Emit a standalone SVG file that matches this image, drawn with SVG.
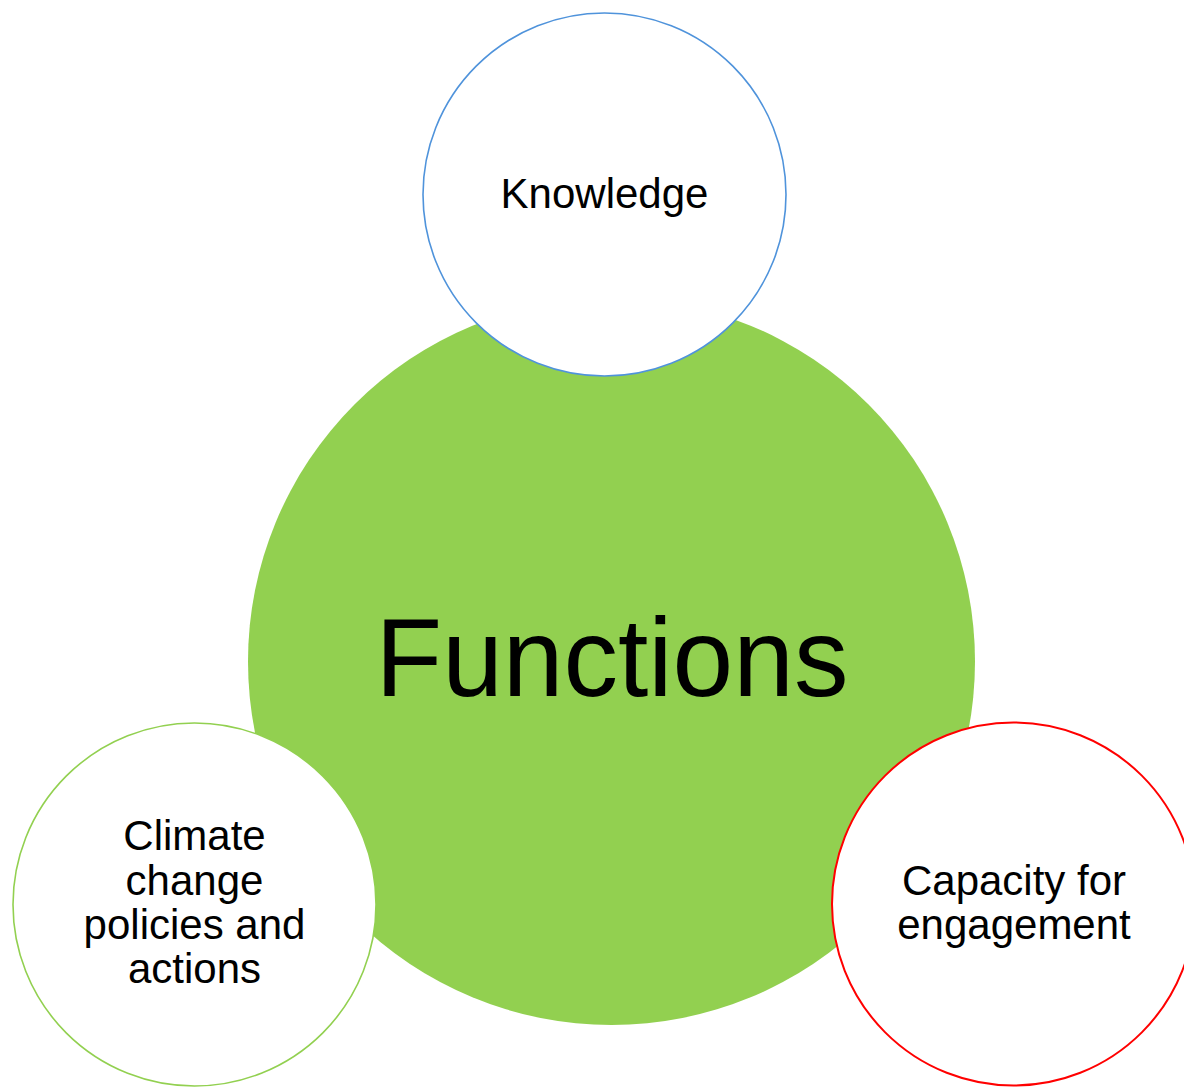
<svg xmlns="http://www.w3.org/2000/svg" width="1184" height="1087" viewBox="0 0 1184 1087">
  <style>
    .lbl { font-family: "Liberation Sans", Arial, sans-serif; fill: #000; text-anchor: middle; }
    .small { font-size: 42px; }
    .sat { fill: #fff; }
  </style>
  <rect width="1184" height="1087" fill="#fff"/>
  <g id="functions">
    <circle cx="611.5" cy="661.5" r="363.5" fill="#92D050"/>
    <text class="lbl" x="612" y="696" font-size="112" textLength="473" lengthAdjust="spacingAndGlyphs">Functions</text>
  </g>
  <g id="connectors"></g>
  <g id="knowledge">
    <circle class="sat" cx="604.5" cy="194.5" r="181.5" stroke="#4F93DB" stroke-width="1.6"/>
    <text class="lbl small" x="604.5" y="208">Knowledge</text>
  </g>
  <g id="climate">
    <circle class="sat" cx="194.5" cy="904.5" r="181.5" stroke="#92D050" stroke-width="1.6"/>
    <text class="lbl small" x="194.5" y="850">Climate</text>
    <text class="lbl small" x="194.5" y="894.5">change</text>
    <text class="lbl small" x="194.5" y="939">policies and</text>
    <text class="lbl small" x="194.5" y="983">actions</text>
  </g>
  <g id="capacity">
    <circle class="sat" cx="1013.5" cy="904" r="181.5" stroke="#FF0000" stroke-width="2"/>
    <text class="lbl small" x="1014" y="895">Capacity for</text>
    <text class="lbl small" x="1014" y="939">engagement</text>
  </g>
</svg>
